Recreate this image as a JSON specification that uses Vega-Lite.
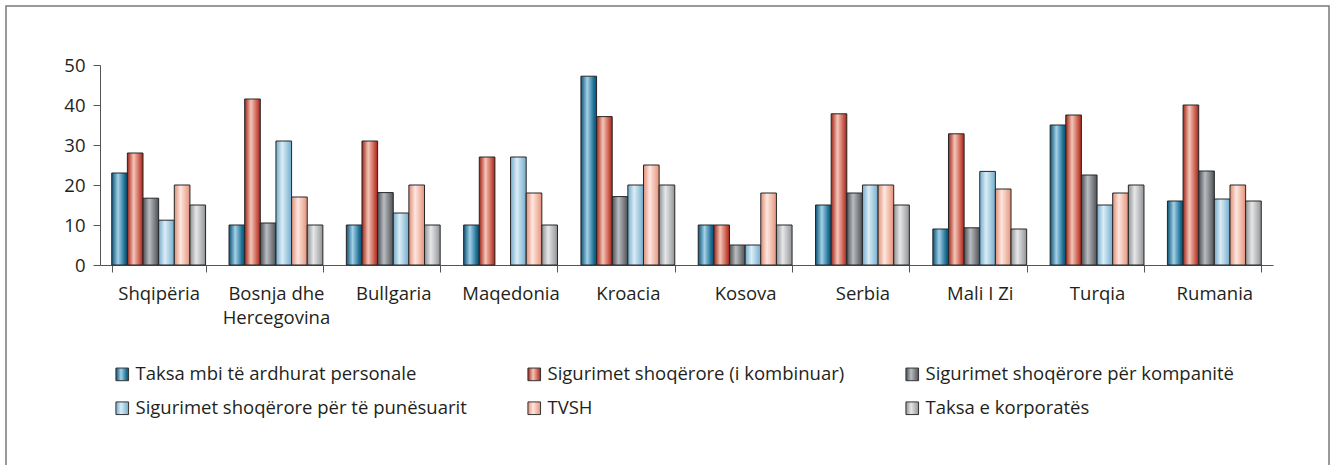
{
  "$schema": "https://vega.github.io/schema/vega-lite/v6.json",
  "autosize": {"type": "none"},
  "padding": {"left": 6, "top": 6, "right": 1, "bottom": -4},
  "width": 1323,
  "height": 463,
  "background": "white",
  "config": {
    "view": {"stroke": "#7a7a7a", "strokeWidth": 1.5},
    "font": "Open Sans",
    "axis": {"labelFont": "Open Sans", "labelFontSize": 18.5, "labelColor": "#231f20", "domainColor": "#555555", "tickColor": "#555555", "grid": false},
    "legend": {"labelFont": "Open Sans", "labelFontSize": 18.5, "labelColor": "#231f20"}
  },
  "data": {
    "values": [
      {"country": "Shqipëria", "series": "Taksa mbi të ardhurat personale", "value": 23},
      {"country": "Shqipëria", "series": "Sigurimet shoqërore (i kombinuar)", "value": 28},
      {"country": "Shqipëria", "series": "Sigurimet shoqërore për kompanitë", "value": 16.7},
      {"country": "Shqipëria", "series": "Sigurimet shoqërore për të punësuarit", "value": 11.2},
      {"country": "Shqipëria", "series": "TVSH", "value": 20},
      {"country": "Shqipëria", "series": "Taksa e korporatës", "value": 15},
      {"country": "Bosnja dhe Hercegovina", "series": "Taksa mbi të ardhurat personale", "value": 10},
      {"country": "Bosnja dhe Hercegovina", "series": "Sigurimet shoqërore (i kombinuar)", "value": 41.5},
      {"country": "Bosnja dhe Hercegovina", "series": "Sigurimet shoqërore për kompanitë", "value": 10.5},
      {"country": "Bosnja dhe Hercegovina", "series": "Sigurimet shoqërore për të punësuarit", "value": 31},
      {"country": "Bosnja dhe Hercegovina", "series": "TVSH", "value": 17},
      {"country": "Bosnja dhe Hercegovina", "series": "Taksa e korporatës", "value": 10},
      {"country": "Bullgaria", "series": "Taksa mbi të ardhurat personale", "value": 10},
      {"country": "Bullgaria", "series": "Sigurimet shoqërore (i kombinuar)", "value": 31},
      {"country": "Bullgaria", "series": "Sigurimet shoqërore për kompanitë", "value": 18.1},
      {"country": "Bullgaria", "series": "Sigurimet shoqërore për të punësuarit", "value": 13},
      {"country": "Bullgaria", "series": "TVSH", "value": 20},
      {"country": "Bullgaria", "series": "Taksa e korporatës", "value": 10},
      {"country": "Maqedonia", "series": "Taksa mbi të ardhurat personale", "value": 10},
      {"country": "Maqedonia", "series": "Sigurimet shoqërore (i kombinuar)", "value": 27},
      {"country": "Maqedonia", "series": "Sigurimet shoqërore për të punësuarit", "value": 27},
      {"country": "Maqedonia", "series": "TVSH", "value": 18},
      {"country": "Maqedonia", "series": "Taksa e korporatës", "value": 10},
      {"country": "Kroacia", "series": "Taksa mbi të ardhurat personale", "value": 47.2},
      {"country": "Kroacia", "series": "Sigurimet shoqërore (i kombinuar)", "value": 37.1},
      {"country": "Kroacia", "series": "Sigurimet shoqërore për kompanitë", "value": 17.1},
      {"country": "Kroacia", "series": "Sigurimet shoqërore për të punësuarit", "value": 20},
      {"country": "Kroacia", "series": "TVSH", "value": 25},
      {"country": "Kroacia", "series": "Taksa e korporatës", "value": 20},
      {"country": "Kosova", "series": "Taksa mbi të ardhurat personale", "value": 10},
      {"country": "Kosova", "series": "Sigurimet shoqërore (i kombinuar)", "value": 10},
      {"country": "Kosova", "series": "Sigurimet shoqërore për kompanitë", "value": 5},
      {"country": "Kosova", "series": "Sigurimet shoqërore për të punësuarit", "value": 5},
      {"country": "Kosova", "series": "TVSH", "value": 18},
      {"country": "Kosova", "series": "Taksa e korporatës", "value": 10},
      {"country": "Serbia", "series": "Taksa mbi të ardhurat personale", "value": 15},
      {"country": "Serbia", "series": "Sigurimet shoqërore (i kombinuar)", "value": 37.8},
      {"country": "Serbia", "series": "Sigurimet shoqërore për kompanitë", "value": 18},
      {"country": "Serbia", "series": "Sigurimet shoqërore për të punësuarit", "value": 20},
      {"country": "Serbia", "series": "TVSH", "value": 20},
      {"country": "Serbia", "series": "Taksa e korporatës", "value": 15},
      {"country": "Mali I Zi", "series": "Taksa mbi të ardhurat personale", "value": 9},
      {"country": "Mali I Zi", "series": "Sigurimet shoqërore (i kombinuar)", "value": 32.8},
      {"country": "Mali I Zi", "series": "Sigurimet shoqërore për kompanitë", "value": 9.3},
      {"country": "Mali I Zi", "series": "Sigurimet shoqërore për të punësuarit", "value": 23.4},
      {"country": "Mali I Zi", "series": "TVSH", "value": 19},
      {"country": "Mali I Zi", "series": "Taksa e korporatës", "value": 9},
      {"country": "Turqia", "series": "Taksa mbi të ardhurat personale", "value": 35},
      {"country": "Turqia", "series": "Sigurimet shoqërore (i kombinuar)", "value": 37.5},
      {"country": "Turqia", "series": "Sigurimet shoqërore për kompanitë", "value": 22.5},
      {"country": "Turqia", "series": "Sigurimet shoqërore për të punësuarit", "value": 15},
      {"country": "Turqia", "series": "TVSH", "value": 18},
      {"country": "Turqia", "series": "Taksa e korporatës", "value": 20},
      {"country": "Rumania", "series": "Taksa mbi të ardhurat personale", "value": 16},
      {"country": "Rumania", "series": "Sigurimet shoqërore (i kombinuar)", "value": 40},
      {"country": "Rumania", "series": "Sigurimet shoqërore për kompanitë", "value": 23.5},
      {"country": "Rumania", "series": "Sigurimet shoqërore për të punësuarit", "value": 16.5},
      {"country": "Rumania", "series": "TVSH", "value": 20},
      {"country": "Rumania", "series": "Taksa e korporatës", "value": 16}
    ]
  },
  "mark": {"type": "bar", "stroke": "#262626", "strokeWidth": 1},
  "encoding": {
    "x": {
      "field": "country", "type": "nominal",
      "sort": ["Shqipëria", "Bosnja dhe Hercegovina", "Bullgaria", "Maqedonia", "Kroacia", "Kosova", "Serbia", "Mali I Zi", "Turqia", "Rumania"],
      "scale": {"range": [94, 1267], "paddingInner": 0.2, "paddingOuter": 0.1},
      "axis": {
        "title": null, "orient": "bottom", "offset": -204, "labelAngle": 0,
        "tickBand": "extent", "tickSize": 7, "labelPadding": 12,
        "labelLineHeight": 24, "labelLimit": 0,
        "labelExpr": "datum.label == 'Bosnja dhe Hercegovina' ? ['Bosnja dhe', 'Hercegovina'] : datum.label"
      }
    },
    "xOffset": {
      "field": "series", "type": "nominal",
      "scale": {"domain": ["Taksa mbi të ardhurat personale", "Sigurimet shoqërore (i kombinuar)", "Sigurimet shoqërore për kompanitë", "Sigurimet shoqërore për të punësuarit", "TVSH", "Taksa e korporatës"], "paddingInner": 0, "paddingOuter": 0}
    },
    "y": {
      "field": "value", "type": "quantitative",
      "scale": {"domain": [0, 50], "range": [259, 59], "nice": false},
      "axis": {"title": null, "orient": "left", "offset": -94, "values": [0, 10, 20, 30, 40, 50], "tickSize": 7, "labelPadding": 8}
    },
    "color": {
      "field": "series", "type": "nominal",
      "scale": {
        "domain": ["Taksa mbi të ardhurat personale", "Sigurimet shoqërore (i kombinuar)", "Sigurimet shoqërore për kompanitë", "Sigurimet shoqërore për të punësuarit", "TVSH", "Taksa e korporatës"],
        "range": [
          {"expr": "{gradient: 'linear', x1: 0, y1: 0, x2: 1, y2: 0, stops: [{offset: 0, color: '#0a5276'}, {offset: 0.4, color: '#a3d1e7'}, {offset: 0.85, color: '#16698f'}, {offset: 1, color: '#0a5276'}]}"},
          {"expr": "{gradient: 'linear', x1: 0, y1: 0, x2: 1, y2: 0, stops: [{offset: 0, color: '#9e2317'}, {offset: 0.4, color: '#f4c6b8'}, {offset: 0.85, color: '#c24a3c'}, {offset: 1, color: '#9e2317'}]}"},
          {"expr": "{gradient: 'linear', x1: 0, y1: 0, x2: 1, y2: 0, stops: [{offset: 0, color: '#4a4e53'}, {offset: 0.4, color: '#b9bcc0'}, {offset: 0.85, color: '#696d72'}, {offset: 1, color: '#4a4e53'}]}"},
          {"expr": "{gradient: 'linear', x1: 0, y1: 0, x2: 1, y2: 0, stops: [{offset: 0, color: '#72abcb'}, {offset: 0.4, color: '#dcedf6'}, {offset: 0.85, color: '#8cbdd8'}, {offset: 1, color: '#72abcb'}]}"},
          {"expr": "{gradient: 'linear', x1: 0, y1: 0, x2: 1, y2: 0, stops: [{offset: 0, color: '#df8e78'}, {offset: 0.4, color: '#fde7df'}, {offset: 0.85, color: '#eca894'}, {offset: 1, color: '#df8e78'}]}"},
          {"expr": "{gradient: 'linear', x1: 0, y1: 0, x2: 1, y2: 0, stops: [{offset: 0, color: '#8f9194'}, {offset: 0.4, color: '#e6e7e8'}, {offset: 0.85, color: '#a7a9ac'}, {offset: 1, color: '#8f9194'}]}"}
        ]
      },
      "legend": {
        "title": null, "orient": "none", "legendX": 107, "legendY": 359,
        "direction": "horizontal", "columns": 3, "columnPadding": 58, "rowPadding": 15,
        "symbolType": "square", "symbolSize": 160, "symbolStrokeColor": "#333333", "symbolStrokeWidth": 1,
        "labelOffset": 4, "labelLimit": 0
      }
    }
  }
}
